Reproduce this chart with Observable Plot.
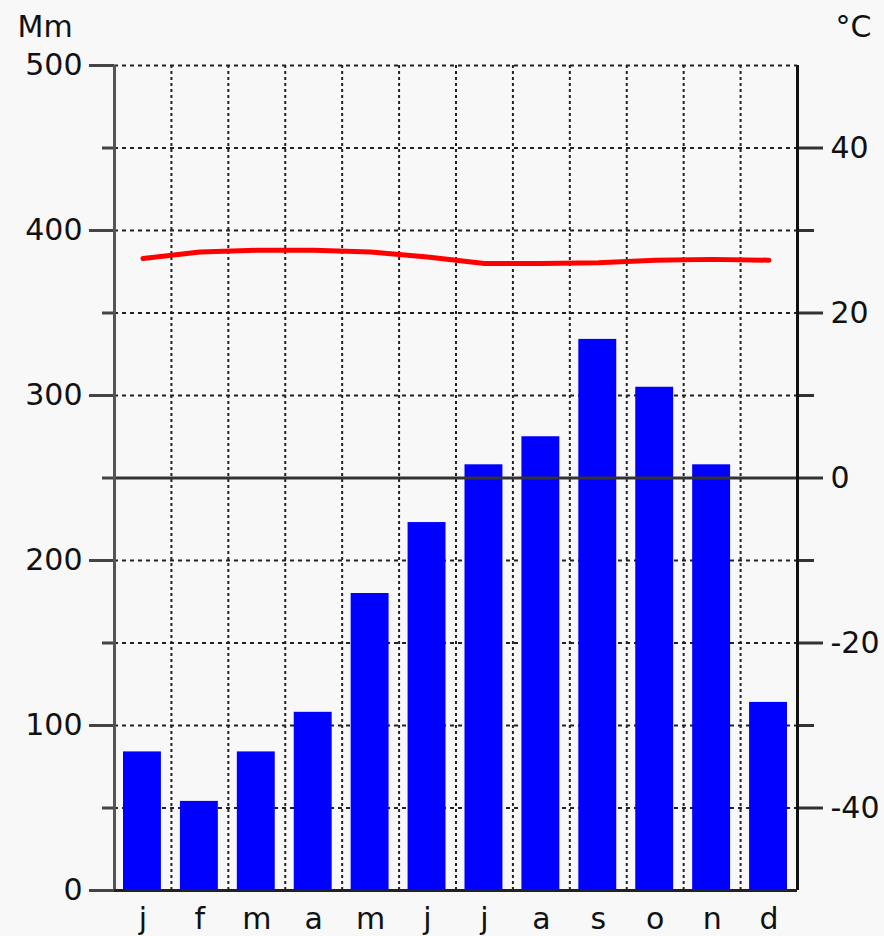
<!DOCTYPE html>
<html><head><meta charset="utf-8">
<script src="https://cdn.jsdelivr.net/npm/d3@7"></script>
<script src="https://cdn.jsdelivr.net/npm/@observablehq/plot@0.6"></script>
<style>html,body{margin:0;padding:0;background:#f8f8f8;}</style>
</head><body><div id="chart"></div>
<script>
const months = ["j","f","m","a","m","j","j","a","s","o","n","d"];
const precipitation = [84,54,84,108,180,223,258,275,334,305,258,114];
const temperature = [26.6,27.4,27.6,27.6,27.4,26.8,26.0,26.0,26.1,26.4,26.5,26.4];
const mmTicks = [0,100,200,300,400,500];
const mmMinorTicks = [50,150,250,350,450];
const tempTicks = [40,20,0,-20,-40];
const tempMinorTicks = [30,10,-10,-30];
const gridMm = [50,100,150,200,300,350,400,450,500];
const zeroTemp = [0];

const toMm = t => 250 + 5 * t;
const rows = months.map((m, i) => ({i, month: m, precip: precipitation[i], temp: temperature[i]}));
const boundaries = d3.range(1, months.length);
const noLabel = () => "";

const plot = Plot.plot({
  width: 884,
  height: 936,
  marginLeft: 114,
  marginRight: 87,
  marginTop: 65,
  marginBottom: 46,
  style: {fontFamily: "DejaVu Sans", fontSize: "30px", background: "#f8f8f8", color: "#111"},
  x: {type: "linear", domain: [0, months.length], axis: null},
  y: {domain: [0, 500], axis: null},
  marks: [
    Plot.ruleY(gridMm, {stroke: "#222", strokeWidth: 2, strokeDasharray: "4,4"}),
    Plot.ruleX(boundaries, {y1: 0, y2: 500, stroke: "#222", strokeWidth: 2, strokeDasharray: "3,3"}),
    Plot.rectY(rows, {x1: "i", x2: d => d.i + 1, y1: 0, y2: "precip", fill: "#0000ff", insetLeft: 9, insetRight: 10}),
    Plot.ruleY(zeroTemp.map(toMm), {stroke: "#333", strokeWidth: 3}),
    Plot.line(rows, {x: d => d.i + 0.5, y: d => toMm(d.temp), stroke: "#ff0000", strokeWidth: 5}),
    // left axis
    Plot.axisY({anchor: "left", ticks: mmTicks, tickSize: 25, tickPadding: 7, label: null, stroke: "#444", strokeWidth: 3, fontSize: 30}),
    Plot.axisY({anchor: "left", ticks: mmMinorTicks, tickSize: 12, tickFormat: noLabel, label: null, stroke: "#444", strokeWidth: 3}),
    // right axis (temperature)
    Plot.axisY({anchor: "right", ticks: tempTicks.map(toMm), tickSize: 25, tickPadding: 8, tickFormat: d => String((d - 250) / 5), label: null, stroke: "#333", strokeWidth: 3, fontSize: 30}),
    Plot.axisY({anchor: "right", ticks: tempMinorTicks.map(toMm), tickSize: 16, tickFormat: noLabel, label: null, stroke: "#333", strokeWidth: 3}),
    // axis lines
    Plot.ruleX([0], {y1: 0, y2: 500, stroke: "#555", strokeWidth: 3}),
    Plot.ruleX([months.length], {y1: 0, y2: 500, stroke: "#111", strokeWidth: 3}),
    Plot.ruleY([0], {x1: 0, x2: months.length, stroke: "#222", strokeWidth: 3}),
    // month labels
    Plot.axisX({anchor: "bottom", ticks: months.map((m, i) => i + 0.5), tickSize: 0, tickPadding: 17, tickFormat: d => months[Math.floor(d)], label: null, fontSize: 30}),
    // unit labels
    Plot.text(["Mm"], {frameAnchor: "top-left", text: d => d, textAnchor: "start", dx: -97, dy: -50, fontSize: 30}),
    Plot.text(["°C"], {frameAnchor: "top-right", text: d => d, textAnchor: "start", dx: 38, dy: -50, fontSize: 30})
  ]
});
document.getElementById("chart").appendChild(plot);
</script>
</body></html>
